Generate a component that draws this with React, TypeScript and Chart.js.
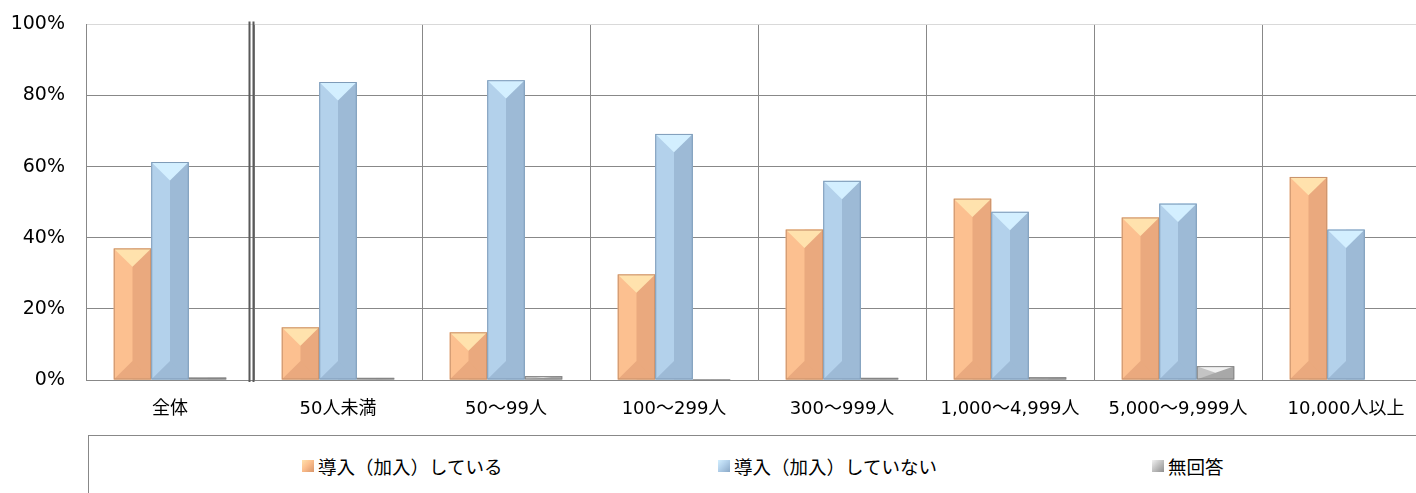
import React, { useEffect, useRef } from 'react';
import { Chart, registerables } from 'chart.js';

Chart.register(...registerables);

const categories = ['全体', '50人未満', '50～99人', '100～299人', '300～999人', '1,000～4,999人', '5,000～9,999人', '10,000人以上'];
const seriesNames = ['導入（加入）している', '導入（加入）していない', '無回答'];
const implemented = [37.0, 14.8, 13.4, 29.7, 42.3, 51.0, 45.7, 57.1];
const notImplemented = [61.3, 83.8, 84.3, 69.2, 56.0, 47.3, 49.6, 42.3];
const noAnswer = [0.7, 0.6, 1.1, 0.2, 0.6, 0.8, 3.9, 0.0];
const yTicks = [0, 20, 40, 60, 80, 100];

const palettes = [
  { top: '#ffe2ad', left: '#fcc090', right: '#eaa97e', line: '#c8916b' },
  { top: '#d3efff', left: '#b3d1eb', right: '#9dbad6', line: '#7e9bb8' },
  { top: '#f2f2f2', left: '#c4c4c4', right: '#a8a8a8', line: '#858585' },
];

const FONT = '"DejaVu Sans", "Noto Sans CJK JP", sans-serif';

const bevelPlugin = {
  id: 'bevel',
  afterDatasetsDraw(chart: any) {
    const ctx = chart.ctx;
    chart.data.datasets.forEach((ds: any, di: number) => {
      const meta = chart.getDatasetMeta(di);
      const pal = palettes[di];
      meta.data.forEach((el: any) => {
        const p = el.getProps(['x', 'y', 'base', 'width'], true);
        const L = p.x - p.width / 2;
        const R = p.x + p.width / 2;
        const T = Math.min(p.y, p.base);
        const B = Math.max(p.y, p.base);
        const h = B - T;
        if (h <= 0.2) return;
        const C = p.x;
        const d = Math.min(p.width * 0.49, h / 2);
        ctx.save();
        ctx.beginPath();
        ctx.rect(L, T, R - L, h);
        ctx.clip();
        ctx.fillStyle = pal.left;
        ctx.fillRect(L, T, R - L, h);
        ctx.fillStyle = pal.right;
        ctx.fillRect(C, T, R - C, h);
        ctx.beginPath();
        ctx.moveTo(L, B);
        ctx.lineTo(R, B);
        ctx.lineTo(C, B - d);
        ctx.closePath();
        ctx.fill();
        ctx.fillStyle = pal.top;
        ctx.beginPath();
        ctx.moveTo(L, T);
        ctx.lineTo(R, T);
        ctx.lineTo(C, T + d);
        ctx.closePath();
        ctx.fill();
        ctx.restore();
        ctx.save();
        ctx.strokeStyle = pal.line;
        ctx.lineWidth = 1;
        ctx.strokeRect(L + 0.5, T + 0.5, R - L - 1, Math.max(h - 1, 0.5));
        ctx.restore();
      });
    });
  },
};

const separatorPlugin = {
  id: 'separator',
  afterDraw(chart: any) {
    const x = chart.scales.x;
    const area = chart.chartArea;
    const bx = (x.getPixelForValue(0) + x.getPixelForValue(1)) / 2;
    const ctx = chart.ctx;
    ctx.save();
    ctx.strokeStyle = '#5a5a5a';
    ctx.lineWidth = 2;
    [bx - 4.5, bx - 0.5].forEach((px) => {
      ctx.beginPath();
      ctx.moveTo(px, area.top - 3);
      ctx.lineTo(px, area.bottom + 2);
      ctx.stroke();
    });
    ctx.restore();
  },
};

const legendGrad = [
  'linear-gradient(135deg, #ffe2ad 0%, #fcbf8e 45%, #d9956a 100%)',
  'linear-gradient(135deg, #d3efff 0%, #b3d1eb 45%, #8aa8c6 100%)',
  'linear-gradient(135deg, #f2f2f2 0%, #c4c4c4 45%, #8f8f8f 100%)',
];
const legendLeft = [302, 718, 1152];

export default function App() {
  const ref = useRef<HTMLCanvasElement>(null);
  useEffect(() => {
    if (!ref.current) return;
    const chart = new Chart(ref.current, {
      type: 'bar',
      data: {
        labels: categories,
        datasets: [implemented, notImplemented, noAnswer].map((vals, i) => ({
          label: seriesNames[i],
          data: vals,
          backgroundColor: palettes[i].left,
          borderWidth: 0,
          categoryPercentage: 0.67,
          barPercentage: 1.0,
        })),
      },
      options: {
        responsive: false,
        animation: false,
        layout: { padding: { top: 16, left: 0, right: 0, bottom: 0 } },
        plugins: { legend: { display: false }, tooltip: { enabled: false } },
        scales: {
          x: {
            offset: true,
            grid: { offset: true, color: '#888888', drawTicks: false, lineWidth: 1 },
            border: { color: '#888888' },
            ticks: { color: '#000', padding: 19, font: { family: FONT, size: 18 }, maxRotation: 0, autoSkip: false },
            afterFit: (s: any) => { s.height = 50; },
          },
          y: {
            min: 0,
            max: 100,
            afterBuildTicks: (s: any) => { s.ticks = yTicks.map((v) => ({ value: v })); },
            grid: {
              color: (c: any) => (c.tick && c.tick.value === 100 ? '#d9d9d9' : '#888888'),
              drawTicks: false,
            },
            border: { color: '#888888' },
            ticks: { color: '#000', padding: 21, font: { family: FONT, size: 19 }, callback: (v: any) => v + '%' },
            afterFit: (s: any) => { s.width = 86; },
          },
        },
      },
      plugins: [bevelPlugin, separatorPlugin],
    });
    return () => chart.destroy();
  }, []);

  return (
    <div style={{ position: 'fixed', left: 0, top: 0, width: 1416, height: 493, overflow: 'hidden', background: '#fff' }}>
      <canvas ref={ref} width={1430} height={438} style={{ position: 'absolute', left: 0, top: -8, width: 1430, height: 438 }} />
      <div style={{ position: 'absolute', left: 88, top: 435, width: 1360, height: 80, border: '1px solid #888', boxSizing: 'border-box' }} />
      {seriesNames.map((name, i) => (
        <div key={name} style={{ position: 'absolute', left: legendLeft[i], top: 454, height: 24, display: 'flex', alignItems: 'center', whiteSpace: 'nowrap' }}>
          <span style={{ display: 'inline-block', width: 12, height: 12, background: legendGrad[i], marginRight: 4 }} />
          <span style={{ fontFamily: FONT, fontSize: 18.5, color: '#000' }}>{name}</span>
        </div>
      ))}
    </div>
  );
}
